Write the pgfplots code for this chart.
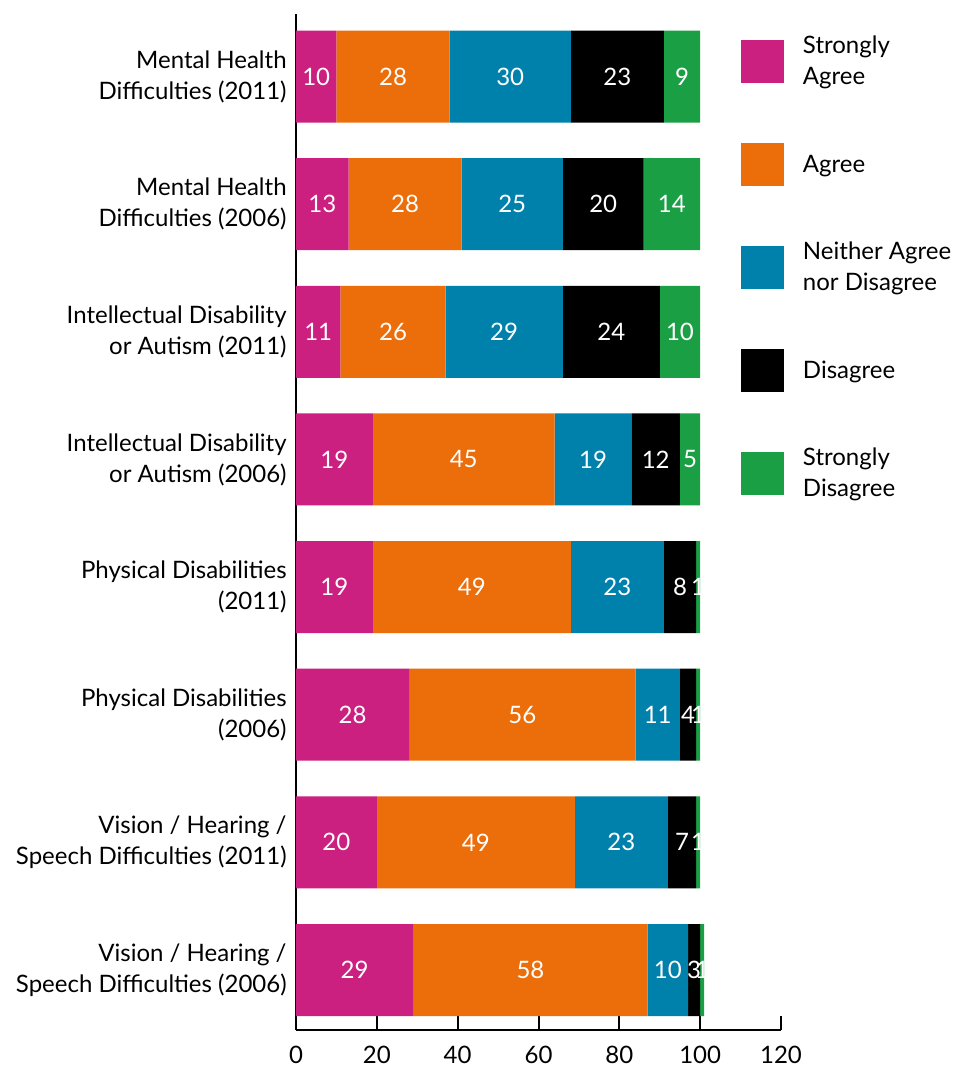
\documentclass[border=0pt]{standalone}
\usepackage{fontspec}
\setmainfont{Lato}
\usepackage{pgfplots}
\usepackage{pgfplotstable}
\pgfplotsset{compat=1.18}
\definecolor{csa}{HTML}{CB2080}
\definecolor{ca}{HTML}{EC6E0A}
\definecolor{cn}{HTML}{0081AC}
\definecolor{cd}{HTML}{000000}
\definecolor{csd}{HTML}{1A9F45}
\newcommand{\lblfont}{\fontsize{12}{15.5}\selectfont}

% pos 7 = top bar (Mental Health 2011), pos 0 = bottom bar
\pgfplotstableread{
pos v
7 10
6 13
5 11
4 19
3 19
2 28
1 20
0 29
}\sa
\pgfplotstableread{
pos v
7 28
6 28
5 26
4 45
3 49
2 56
1 49
0 58
}\ag
\pgfplotstableread{
pos v
7 30
6 25
5 29
4 19
3 23
2 11
1 23
0 10
}\ne
\pgfplotstableread{
pos v
7 23
6 20
5 24
4 12
3 8
2 4
1 7
0 3
}\di
\pgfplotstableread{
pos v
7 9
6 14
5 10
4 5
3 1
2 1
1 1
0 1
}\sd

\pgfplotsset{
  mylegimg/.style={legend image code/.code={\fill[##1] (0pt,-10.75pt) rectangle (21.5pt,10.75pt);}},
  seg/.style={fill=#1, draw=none, mylegimg,
    nodes near coords,
    nodes near coords style={white, font=\lblfont, anchor=center}},
}

\begin{document}
\begin{tikzpicture}
\begin{axis}[name=ax,
  xbar stacked, bar width=46pt,
  width=242.5pt, height=508pt, scale only axis,
  xmin=0, xmax=120, ymin=-0.47, ymax=7.49,
  axis x line*=bottom, axis y line*=left,
  axis line style={line width=1pt, black},
  xtick={0,20,...,120},
  tick align=inside,
  major tick length=7pt,
  xtick style={line width=1pt, black},
  ytick={0,...,7},
  ytick style={draw=none},
  yticklabels={{Vision / Hearing /\\Speech Difficulties (2006)},
               {Vision / Hearing /\\Speech Difficulties (2011)},
               {Physical Disabilities\\(2006)},
               {Physical Disabilities\\(2011)},
               {Intellectual Disability\\or Autism (2006)},
               {Intellectual Disability\\or Autism (2011)},
               {Mental Health\\Difficulties (2006)},
               {Mental Health\\Difficulties (2011)}},
  yticklabel style={align=right, font=\lblfont, inner sep=0pt, xshift=-4.5pt},
  xticklabel style={font=\lblfont, yshift=-4.5pt},
  /pgf/number format/assume math mode=true,
  point meta=explicit,
  legend style={at={(rel axis cs:0.9175,1)}, anchor=north west, yshift=-8pt,
    inner sep=0pt, outer sep=0pt, draw=none, fill=none,
    row sep=19.5pt, column sep=9.5pt,
    nodes={inner sep=0pt, align=left, minimum height=32pt, font=\lblfont, anchor=west}},
  legend cell align=left,
  clip=false,
]
\addplot[seg=csa] table[x=v, y=pos, meta=v] {\sa};
\addlegendentry{Strongly\\Agree}
\addplot[seg=ca] table[x=v, y=pos, meta=v] {\ag};
\addlegendentry{Agree}
\addplot[seg=cn] table[x=v, y=pos, meta=v] {\ne};
\addlegendentry{Neither Agree\\nor Disagree}
\addplot[seg=cd] table[x=v, y=pos, meta=v] {\di};
\addlegendentry{Disagree}
\addplot[seg=csd] table[x=v, y=pos, meta=v] {\sd};
\addlegendentry{Strongly\\Disagree}
\end{axis}
\pgfresetboundingbox
\path ([xshift=-148pt,yshift=-18.5pt]ax.south west) rectangle ([xshift=89pt,yshift=7pt]ax.north east);
\end{tikzpicture}
\end{document}
